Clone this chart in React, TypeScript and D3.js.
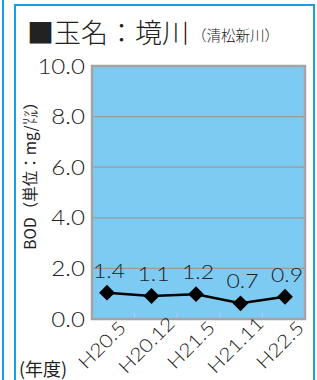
import { useRef, useEffect } from "react";
import * as d3 from "d3";

const categories = ["H20.5", "H20.12", "H21.5", "H21.11", "H22.5"];
// where the markers sit on the picture
const plotted = [1.04, 0.91, 0.98, 0.62, 0.88];
// the numbers printed above the markers
const valueLabels = ["1.4", "1.1", "1.2", "0.7", "0.9"];
const yTicks = [0, 2, 4, 6, 8, 10];

const W = 317;
const H = 380;
const numFont = "Lato, 'DejaVu Sans', sans-serif";
const jpFont = "'Noto Sans CJK JP', sans-serif";
// the original numerals are wide and thin
const STRETCH = 1.15;

const BodChart = () => {
  const svgRef = useRef<SVGSVGElement | null>(null);

  useEffect(() => {
    if (!svgRef.current) return;
    const svg = d3.select(svgRef.current);
    svg.selectAll("*").remove();

    const plot = { left: 92, right: 305, top: 66, bottom: 319 };

    const y = d3.scaleLinear().domain([0, 10]).range([plot.bottom, plot.top]);
    const xBand = d3.scaleBand<string>().domain(categories).range([plot.left, plot.right]);
    const x = d3.scalePoint<string>().domain(categories).range([107, 285]);

    // neighbouring panel edge + panel frame
    svg.append("line").attr("x1", 3).attr("x2", 3).attr("y1", 0).attr("y2", H)
      .attr("stroke", "#14a0e4").attr("stroke-width", 2);
    svg.append("path")
      .attr("d", `M15,${H} V5 H314 V${H}`)
      .attr("fill", "none").attr("stroke", "#14a0e4").attr("stroke-width", 2);

    // title
    const title = svg.append("text").attr("x", 27).attr("y", 43)
      .attr("font-family", jpFont).attr("font-weight", 300).attr("fill", "#222");
    title.append("tspan").attr("font-size", 27).text("■玉名：境川");
    title.append("tspan").attr("font-size", 14.5).attr("dx", 3).attr("dy", -2).text("（清松新川）");

    // plot area
    svg.append("rect")
      .attr("x", plot.left).attr("y", plot.top)
      .attr("width", plot.right - plot.left).attr("height", plot.bottom - plot.top)
      .attr("fill", "#7dcbf2");

    svg.append("g").selectAll("line")
      .data(yTicks.filter((t) => t > 0 && t < 10))
      .join("line")
      .attr("x1", plot.left).attr("x2", plot.right)
      .attr("y1", (d) => y(d)).attr("y2", (d) => y(d))
      .attr("stroke", "#9a9a9a").attr("stroke-width", 1.2);

    // category separators at the bottom
    svg.append("g").selectAll("line")
      .data(categories.slice(1))
      .join("line")
      .attr("x1", (d) => xBand(d)!).attr("x2", (d) => xBand(d)!)
      .attr("y1", plot.bottom - 6).attr("y2", plot.bottom)
      .attr("stroke", "#a9d6ee").attr("stroke-width", 1);

    svg.append("rect")
      .attr("x", plot.left).attr("y", plot.top)
      .attr("width", plot.right - plot.left).attr("height", plot.bottom - plot.top)
      .attr("fill", "none").attr("stroke", "#a4a4a4").attr("stroke-width", 2.5);

    // y tick labels
    svg.append("g").selectAll("text")
      .data(yTicks)
      .join("text")
      .attr("transform", (d) => `translate(85,${y(d)}) scale(${STRETCH},1)`)
      .attr("dy", "0.36em")
      .attr("text-anchor", "end")
      .attr("font-family", numFont).attr("font-weight", 300)
      .attr("font-size", 21).attr("fill", "#222")
      .text((d) => d.toFixed(1));

    // y axis title
    svg.append("text")
      .attr("transform", `translate(36,172) rotate(-90)`)
      .attr("text-anchor", "middle")
      .attr("font-family", jpFont).attr("font-size", 15.5).attr("fill", "#222")
      .text("BOD（単位：mg/㍑）");

    // line + markers
    const line = d3.line<number>()
      .x((_, i) => x(categories[i])!)
      .y((d) => y(d));

    svg.append("path")
      .datum(plotted)
      .attr("fill", "none").attr("stroke", "#000").attr("stroke-width", 2.5)
      .attr("d", line);

    svg.append("g").selectAll("path")
      .data(plotted)
      .join("path")
      .attr("transform", (d, i) => `translate(${x(categories[i])},${y(d)}) rotate(45)`)
      .attr("d", d3.symbol(d3.symbolSquare, 125)())
      .attr("fill", "#000");

    svg.append("g").selectAll("text")
      .data(plotted)
      .join("text")
      .attr("transform", (d, i) => `translate(${x(categories[i])! + 2},${y(d) - 15}) scale(${STRETCH},1)`)
      .attr("text-anchor", "middle")
      .attr("font-family", numFont).attr("font-weight", 300)
      .attr("font-size", 20).attr("fill", "#222")
      .text((_, i) => valueLabels[i]);

    // x labels
    svg.append("g").selectAll("text")
      .data(categories)
      .join("text")
      .attr("transform", (d) => `translate(${x(d)! - 5},345) rotate(-45) scale(${STRETCH},1)`)
      .attr("text-anchor", "middle")
      .attr("dy", "0.35em")
      .attr("font-family", numFont).attr("font-weight", 300)
      .attr("font-size", 18.5).attr("fill", "#222")
      .text((d) => d);

    svg.append("text")
      .attr("x", 19).attr("y", 376)
      .attr("font-family", jpFont).attr("font-size", 18).attr("fill", "#222")
      .text("(年度)");
  }, []);

  return (
    <div style={{ position: "fixed", left: 0, top: 0 }}>
      <svg ref={svgRef} width={W} height={H} style={{ display: "block", background: "#fff" }}></svg>
    </div>
  );
};

export default function App() {
  return <BodChart />;
}
